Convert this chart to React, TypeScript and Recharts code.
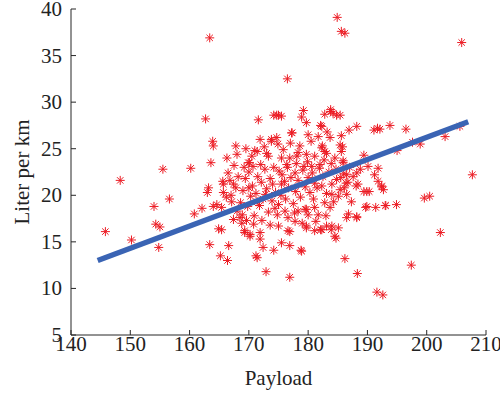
import { ComposedChart, Scatter, XAxis, YAxis } from 'recharts'

const payload = [
  163.4, 184.9, 185.6, 186.2, 205.9, 176.5, 162.7, 207.7, 148.3, 145.8,
  150.2, 154.8, 154.0, 156.6, 154.3, 155.0, 155.5, 160.2, 160.8, 162.1,
  163.0, 163.4, 165.2, 166.4, 166.6, 164.9, 165.4, 163.9, 164.0, 167.8,
  166.3, 163.6, 167.5, 165.6, 166.8, 165.7, 164.0, 164.6, 165.4, 167.1,
  167.4, 169.3, 169.6, 168.5, 163.2, 165.7, 169.9, 186.2, 188.3, 191.6,
  192.6, 197.4, 202.3, 199.6, 200.5, 194.9, 193.1, 191.4, 189.9, 188.2,
  186.8, 184.7, 183.9, 172.9, 176.9, 178.8, 176.9, 175.5, 174.2, 171.2,
  171.4, 172.4, 171.9, 175.0, 176.9, 179.7, 181.1, 182.1, 183.1, 179.7,
  180.9, 189.9, 170.2, 193.8, 196.5, 191.1, 192.1, 188.2, 186.9, 183.8,
  184.2, 185.4, 182.8, 179.2, 178.9, 174.7, 175.5, 171.6, 177.2, 179.7,
  180.0, 182.1, 183.2, 183.7, 185.6, 203.1, 205.6, 198.9, 197.6, 195.0,
  189.4, 190.1, 191.8, 191.2, 191.8, 192.4, 192.7, 190.3, 188.4, 186.4,
  187.6, 185.9, 186.0, 171.9, 173.8, 174.9, 175.8, 178.6, 178.3, 181.7,
  182.4, 182.8, 174.2, 171.4, 173.3, 173.8, 170.1, 170.7, 172.0, 182.3,
  183.1, 185.4, 185.8, 185.6, 181.1, 175.5, 182.0, 180.6, 179.3, 177.8,
  176.9, 176.4, 175.6, 175.5, 185.9, 186.5, 188.2, 184.0, 184.8, 186.7,
  181.1, 182.5, 180.0, 178.1, 179.7, 179.5, 178.3, 180.0, 181.7, 182.8,
  183.7, 184.0, 185.4, 186.1, 186.5, 188.1, 189.4, 192.4, 189.7, 193.0,
  186.5, 188.2, 184.0, 185.1, 184.5, 182.3, 179.7, 177.8, 176.6, 176.6,
  176.1, 175.0, 178.9, 175.0, 183.8, 184.8, 182.3, 191.7, 177.3, 174.7,
  168.8, 171.9, 170.2, 169.3, 167.0, 167.8, 168.2, 168.6, 169.0, 169.4,
  169.8, 170.0, 170.3, 170.6, 170.9, 171.2, 171.5, 171.8, 172.1, 172.4,
  172.7, 173.0, 173.3, 173.6, 173.9, 174.2, 174.5, 174.8, 175.1, 175.4,
  169.2, 170.5, 171.0, 172.6, 168.0, 168.9, 170.8, 172.2, 173.6, 174.4,
  167.4, 166.5, 166.2, 168.0, 176.2, 176.7, 177.1, 177.5, 177.9, 178.3,
  178.7, 179.1, 179.5, 179.9, 180.3, 180.7, 181.1, 181.5, 181.9, 182.3,
  182.7, 183.1, 183.5, 183.9, 184.3, 184.7, 185.1, 185.5, 178.0, 177.0,
  180.5, 184.5, 176.0, 173.0, 169.5, 171.4, 174.0, 181.3, 183.0, 187.3,
  187.0, 188.8, 179.0, 177.7, 176.5, 170.0, 172.8,
]

const literPerKm = [
  36.9, 39.1, 37.6, 37.4, 36.4, 32.5, 28.2, 22.2, 21.6, 16.1,
  15.2, 14.4, 18.8, 19.6, 16.9, 16.6, 22.8, 22.9, 18.0, 18.6,
  20.3, 14.7, 13.5, 13.0, 14.6, 16.4, 16.3, 25.8, 25.3, 25.3,
  24.0, 23.5, 23.2, 21.5, 21.6, 20.3, 18.8, 19.0, 18.7, 19.3,
  17.4, 16.0, 17.3, 17.6, 20.8, 21.2, 23.5, 13.2, 11.6, 9.6,
  9.3, 12.5, 16.0, 19.7, 19.9, 19.0, 18.9, 18.7, 18.8, 17.7,
  18.0, 15.4, 16.3, 11.8, 11.2, 14.1, 14.6, 14.9, 14.1, 13.5,
  13.3, 14.4, 15.3, 16.7, 16.1, 16.7, 16.2, 16.3, 16.7, 18.5,
  19.6, 20.4, 15.6, 27.5, 27.1, 27.0, 27.1, 27.4, 27.0, 29.2,
  28.8, 28.6, 28.7, 29.1, 28.4, 28.6, 28.5, 28.1, 26.7, 27.8,
  26.5, 27.5, 26.8, 26.2, 26.4, 26.3, 27.4, 25.5, 25.7, 24.8,
  24.3, 23.1, 22.9, 22.2, 21.5, 21.0, 20.6, 20.4, 21.2, 21.3,
  22.0, 23.5, 22.3, 26.0, 26.0, 25.5, 24.9, 25.3, 24.6, 26.3,
  25.3, 24.7, 28.6, 24.7, 24.2, 25.8, 23.5, 23.1, 23.3, 25.1,
  24.5, 25.4, 25.2, 24.7, 24.2, 24.0, 23.3, 23.1, 23.1, 22.4,
  24.0, 23.3, 22.2, 21.2, 23.7, 22.2, 22.4, 21.2, 21.7, 21.4,
  21.3, 22.0, 21.9, 24.2, 24.4, 18.5, 18.3, 17.9, 17.9, 19.2,
  18.7, 20.1, 20.6, 20.8, 20.1, 21.0, 20.4, 20.9, 18.7, 18.9,
  17.6, 17.6, 16.7, 16.5, 15.6, 16.3, 16.5, 17.2, 17.6, 16.2,
  18.3, 19.0, 14.0, 28.6, 29.0, 28.6, 27.4, 27.2, 26.7, 26.2,
  17.0, 16.0, 15.8, 16.2, 20.0, 20.8, 22.0, 19.2, 20.5, 21.8,
  18.8, 22.5, 19.9, 21.0, 17.8, 20.2, 22.0, 18.9, 21.4, 19.6,
  22.8, 20.7, 18.2, 21.8, 19.4, 23.0, 20.3, 17.9, 22.6, 20.0,
  23.0, 24.2, 24.8, 25.2, 18.3, 17.9, 16.9, 17.3, 16.8, 18.6,
  21.2, 22.4, 19.8, 24.4, 19.6, 20.8, 21.9, 19.1, 20.4, 21.6,
  19.8, 22.7, 20.9, 23.6, 20.3, 22.4, 18.7, 20.8, 22.9, 21.0,
  23.8, 20.2, 22.5, 23.4, 19.3, 22.8, 19.9, 21.9, 23.4, 25.6,
  25.8, 24.0, 21.5, 24.5, 25.0, 19.3, 21.2, 17.2, 17.8, 19.3,
  23.0, 22.8, 17.0, 18.1, 23.0, 20.8, 20.1,
]

// fitted line end points
const fitPayload = [144.5, 207.0]
const fitLiter = [13.0, 27.9]

const xTicks = [140, 150, 160, 170, 180, 190, 200, 210]
const yTicks = [5, 10, 15, 20, 25, 30, 35, 40]

const points = payload.map((p, i) => ({ x: p, y: literPerKm[i] }))
const fit = fitPayload.map((p, i) => ({ x: p, y: fitLiter[i] }))

const txt = { fontFamily: 'Liberation Serif, serif', fontSize: 21, fill: '#222' }
const AX = '#262626'
const RED = '#ec1c24'
const BLUE = '#3a64b4'

const Asterisk = (props: any) => {
  const { cx, cy } = props
  if (cx == null || cy == null) return <g />
  const r = 4.5, d = 3.2
  return (
    <g stroke={RED} strokeWidth={1}>
      <line x1={cx - r} y1={cy} x2={cx + r} y2={cy} />
      <line x1={cx} y1={cy - r} x2={cx} y2={cy + r} />
      <line x1={cx - d} y1={cy - d} x2={cx + d} y2={cy + d} />
      <line x1={cx - d} y1={cy + d} x2={cx + d} y2={cy - d} />
    </g>
  )
}

const BottomTick = ({ x, y, payload }: any) => (
  <g>
    <line x1={x} x2={x} y1={y} y2={y - 5} stroke={AX} />
    <text x={x} y={y} dy={16} textAnchor="middle" style={txt}>{payload.value}</text>
  </g>
)
const TopTick = ({ x, y }: any) => <line x1={x} x2={x} y1={y} y2={y + 5} stroke={AX} />
const LeftTick = ({ x, y, payload }: any) => (
  <g>
    <line x1={x} x2={x + 5} y1={y} y2={y} stroke={AX} />
    <text x={x - 9} y={y} dy={7} textAnchor="end" style={txt}>{payload.value}</text>
  </g>
)
const RightTick = ({ x, y }: any) => <line x1={x} x2={x - 5} y1={y} y2={y} stroke={AX} />

export default function App() {
  return (
    <div style={{ position: 'absolute', left: 0, top: 0, background: '#fff' }}>
      <ComposedChart width={500} height={401} margin={{ top: 9, right: 14, bottom: 0, left: 0 }}>
        <XAxis dataKey="x" type="number" domain={[140, 210]} ticks={xTicks} height={66}
          tickSize={0} tickMargin={0} tick={<BottomTick />} axisLine={{ stroke: AX }} allowDataOverflow
          label={({ viewBox }: any) => (
            <text x={viewBox.x + viewBox.width / 2} y={viewBox.y + 50} textAnchor="middle" style={txt}>Payload</text>
          )} />
        <XAxis xAxisId="top" orientation="top" type="number" domain={[140, 210]} ticks={xTicks} height={0}
          tickSize={0} tickMargin={0} tick={<TopTick />} axisLine={{ stroke: AX }} allowDataOverflow />
        <YAxis dataKey="y" type="number" domain={[5, 40]} ticks={yTicks} width={71}
          tickSize={0} tickMargin={0} tick={<LeftTick />} axisLine={{ stroke: AX }} allowDataOverflow
          label={({ viewBox }: any) => (
            <text x={22} y={viewBox.y + viewBox.height / 2} textAnchor="middle" dominantBaseline="central"
              transform={`rotate(-90, 22, ${viewBox.y + viewBox.height / 2})`} style={txt}>Liter per km</text>
          )} />
        <YAxis yAxisId="right" orientation="right" type="number" domain={[5, 40]} ticks={yTicks} width={0}
          tickSize={0} tickMargin={0} tick={<RightTick />} axisLine={{ stroke: AX }} allowDataOverflow />
        <Scatter data={points} shape={<Asterisk />} isAnimationActive={false} />
        <Scatter data={fit} line={{ stroke: BLUE, strokeWidth: 5.5 }} shape={() => <g />}
          isAnimationActive={false} />
      </ComposedChart>
    </div>
  )
}
